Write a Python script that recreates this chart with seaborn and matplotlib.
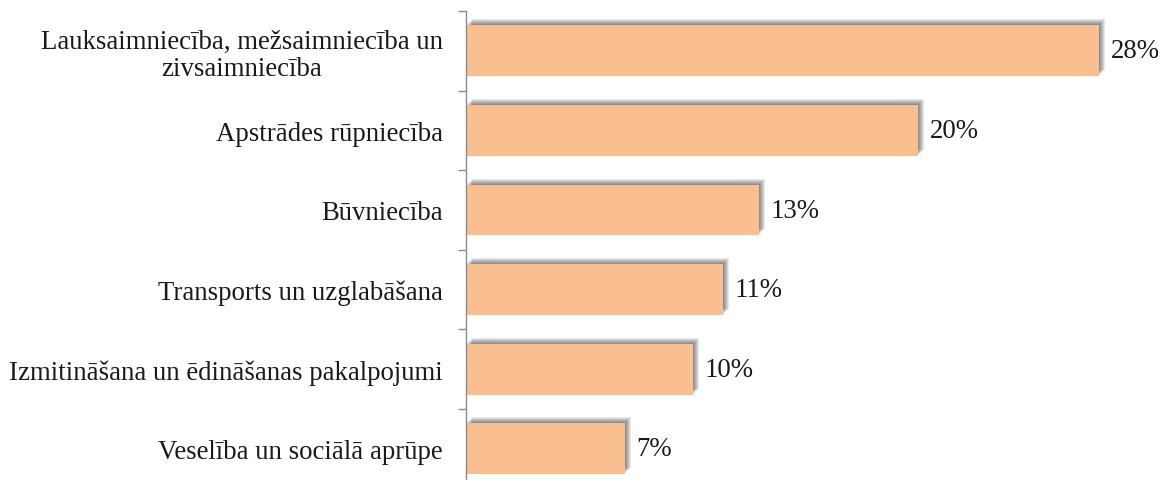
import numpy as np
import pandas as pd
import matplotlib
matplotlib.use("Agg")
import matplotlib.pyplot as plt
import matplotlib.patheffects as pe
import seaborn as sns

# Nozares un to īpatsvars (%)
nozares = [
    "Lauksaimniecība, mežsaimniecība un\nzivsaimniecība",
    "Apstrādes rūpniecība",
    "Būvniecība",
    "Transports un uzglabāšana",
    "Izmitināšana un ēdināšanas pakalpojumi",
    "Veselība un sociālā aprūpe",
]
ipatsvars = [27.9, 19.9, 12.9, 11.3, 10.0, 7.0]
etiketes = [f"{round(v)}%" for v in ipatsvars]

df = pd.DataFrame({"nozare": nozares, "ipatsvars": ipatsvars})

sns.set_style("white")
plt.rcParams["font.family"] = ["Liberation Serif", "DejaVu Serif"]

fig = plt.figure(figsize=(11.63, 4.81), dpi=100)
ax = fig.add_axes([466 / 1163, 1 - 489.6 / 481, 681 / 1163, 477.6 / 481])

sns.barplot(data=df, x="ipatsvars", y="nozare", orient="h",
            color="#F9BF8F", saturation=1, width=0.64, linewidth=0, ax=ax)

# mīksta ēna ap stabiņiem (vairāki slāņi imitē izplūdumu)
ena = [pe.SimplePatchShadow(offset=(d * 0.72, d * 0.72), shadow_rgbFace="black", alpha=0.09)
       for d in (6, 5, 4, 3, 2, 1)]
for bar in ax.patches:
    bar.set_path_effects(ena + [pe.Normal()])

ax.bar_label(ax.containers[0], labels=etiketes, padding=8.5, fontsize=19.3, color="#1a1a1a")

ax.set_xlim(0, 30)
ax.set_ylim(len(nozares) - 0.5, -0.5)
ax.set_xlabel("")
ax.set_ylabel("")
ax.set_xticks([])

# kategoriju nosaukumi
ax.set_yticks(range(len(nozares)))
ax.set_yticklabels(nozares, fontsize=19.3, color="#1a1a1a",
                   multialignment="center", linespacing=1.1)
ax.tick_params(axis="y", which="major", left=False, length=0, pad=16.5)
# robežu iedaļas
ax.set_yticks(np.arange(-0.5, len(nozares), 1), minor=True)
ax.tick_params(axis="y", which="minor", left=True, length=6, width=1,
               color="#8c8c8c", direction="out")

for s in ["top", "right", "bottom"]:
    ax.spines[s].set_visible(False)
ax.spines["left"].set_color("#8c8c8c")
ax.spines["left"].set_linewidth(1)

fig.savefig("out.png", dpi=100)
